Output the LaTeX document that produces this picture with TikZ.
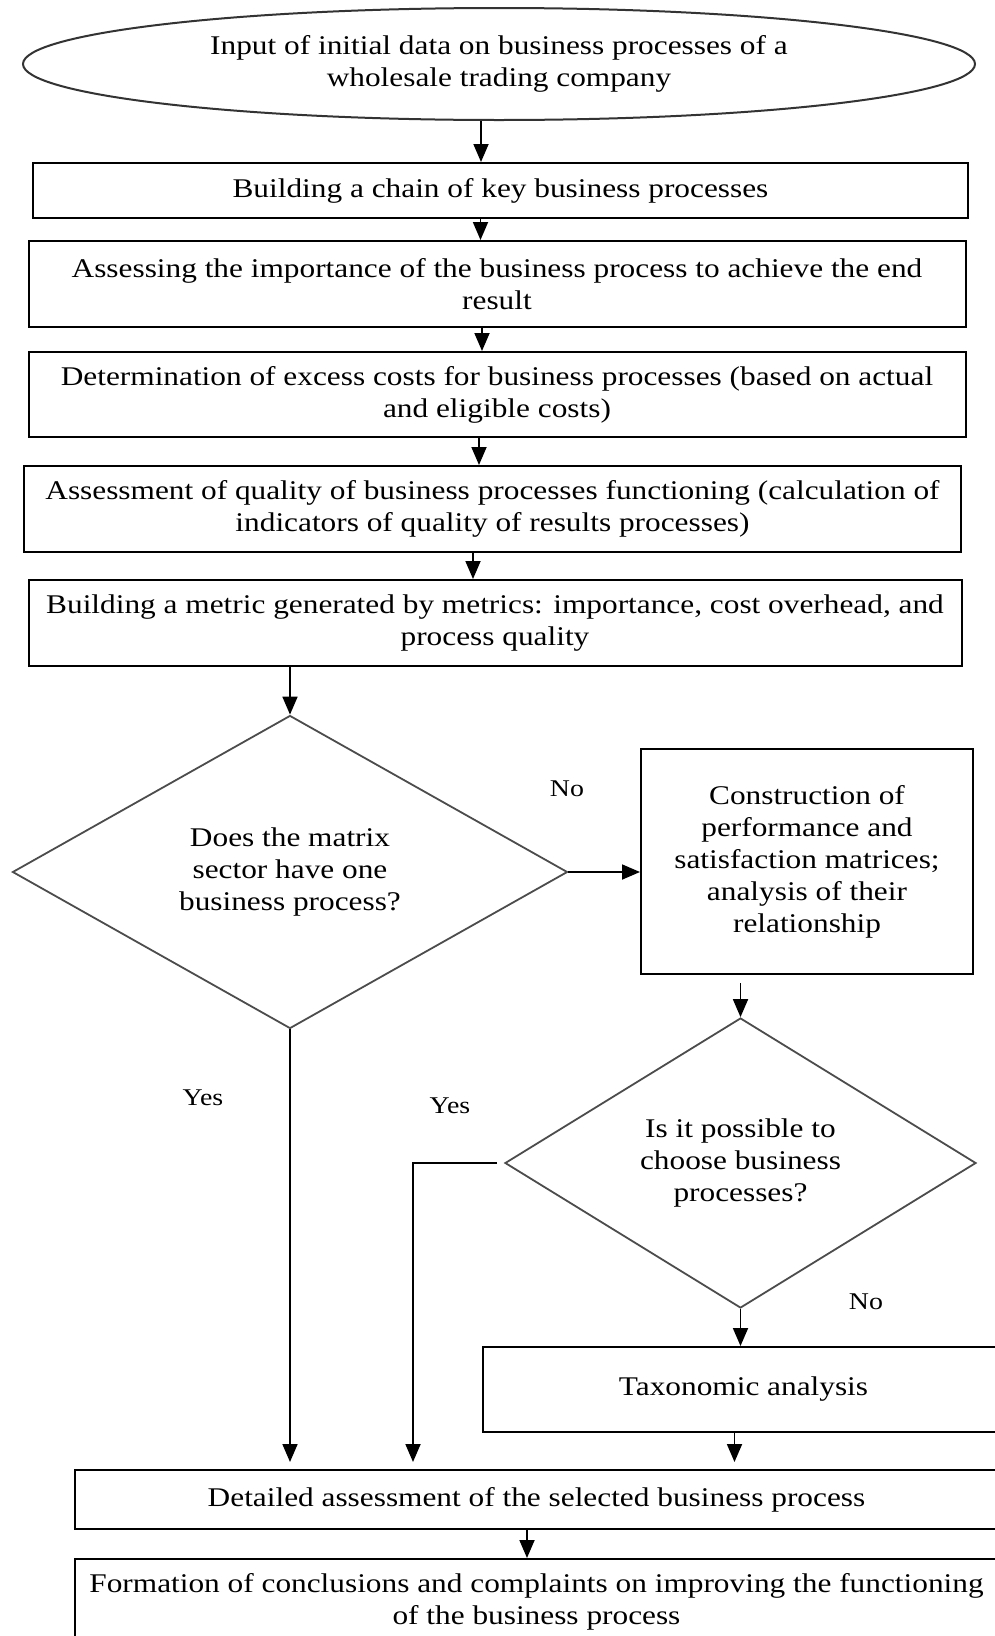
\documentclass[tikz,border=0pt]{standalone}
\usepackage{fontspec}
\setmainfont{Liberation Serif}[FakeStretch=1.16]
\usetikzlibrary{shapes.geometric,arrows.meta}
\tikzset{
    procbox/.style={draw,line width=2pt,rectangle,align=center,inner sep=0pt},
    decision/.style={draw=black!70,line width=1.8pt,diamond,align=center,inner sep=0pt},
    startend/.style={draw=black!80,line width=2pt,ellipse,align=center,inner sep=0pt},
    arr/.style={line width=1.8pt,-{Triangle[length=18pt,width=15pt]}},
    lbl/.style={font=\fontsize{24}{29}\selectfont}
}
\begin{document}
\begin{tikzpicture}[x=1pt,y=-1pt,font=\fontsize{27}{32}\selectfont]
            \useasboundingbox (0,0) rectangle (995,1636);
            \clip (0,0) rectangle (995,1636);
            \node[startend,minimum width=952,minimum height=112] (ell) at (499,64) {Input of initial data on business processes of a\\wholesale trading company};
            \node[procbox,minimum width=935,minimum height=55] (b1) at (500.5,190.5) {Building a chain of key business processes};
            \node[procbox,minimum width=937,minimum height=86] (b2) at (497,284) {Assessing the importance of the business process to achieve the end\\result};
            \node[procbox,minimum width=937,minimum height=85] (b3) at (497,394.5) {Determination of excess costs for business processes (based on actual\\and eligible costs)};
            \node[procbox,minimum width=937,minimum height=86] (b4) at (492.5,509) {Assessment of quality of business processes functioning (calculation of\\indicators of quality of results processes)};
            \node[procbox,minimum width=933,minimum height=86] (b5) at (495,623) {Building a metric generated by metrics: importance, cost overhead, and\\process quality};
            \node[decision,minimum width=555,minimum height=313] (d1) at (290,872) {Does the matrix\\sector have one\\business process?};
            \node[procbox,minimum width=332,minimum height=225] (b6) at (807,861.5) {Construction of\\performance and\\satisfaction matrices;\\analysis of their\\relationship};
            \node[decision,minimum width=471,minimum height=290] (d2) at (740.5,1163) {Is it possible to\\choose business\\processes?};
            \node[procbox,minimum width=521,minimum height=85] (tax) at (743.5,1389.5) {Taxonomic analysis};
            \node[procbox,minimum width=923,minimum height=59] (b7) at (536.5,1499.5) {Detailed assessment of the selected business process};
            \node[procbox,minimum width=923,minimum height=86] (b8) at (536.5,1602) {Formation of conclusions and complaints on improving the functioning\\of the business process};
            % branch labels
            \node[lbl] (no1) at (567,789) {No};
            \node[lbl] (yes1) at (203,1098) {Yes};
            \node[lbl] (yes2) at (450,1106) {Yes};
            \node[lbl] (no2) at (866,1302) {No};
            \coordinate (yc) at (413,1163);
            \draw[arr] ([xshift=-18]ell.south) -- ([xshift=-18]ell.south |- b1.north);
            \draw[arr] ([xshift=-20]b1.south) -- ([xshift=-20]b1.south |- b2.north);
            \draw[arr] ([xshift=-15]b2.south) -- ([xshift=-15]b2.south |- b3.north);
            \draw[arr] ([xshift=-18]b3.south) -- ([xshift=-18]b3.south |- b4.north);
            \draw[arr] ([xshift=-19.5]b4.south) -- ([xshift=-19.5]b4.south |- b5.north);
            \draw[arr] (b5.south -| d1.north) -- (d1.north);
            \draw[arr] (d1.east) -- (d1.east -| b6.west);
            \draw[arr] ([yshift=-8]b6.south -| d2.north) -- (d2.north);
            \draw[arr] (d2.south) -- (d2.south |- tax.north);
            \draw[arr,shorten >=7] ([xshift=-9]tax.south) -- ([xshift=-9]tax.south |- b7.north);
            \draw[arr,shorten >=7] (d1.south) -- (d1.south |- b7.north);
            \draw[arr,shorten >=7] ([xshift=-7]d2.west) -- (yc) -- (yc |- b7.north);
            \draw[arr] ([xshift=-9.5]b7.south) -- ([xshift=-9.5]b7.south |- b8.north);
            % \draw[arr] (b7) -- (b8);
\end{tikzpicture}
\end{document}
